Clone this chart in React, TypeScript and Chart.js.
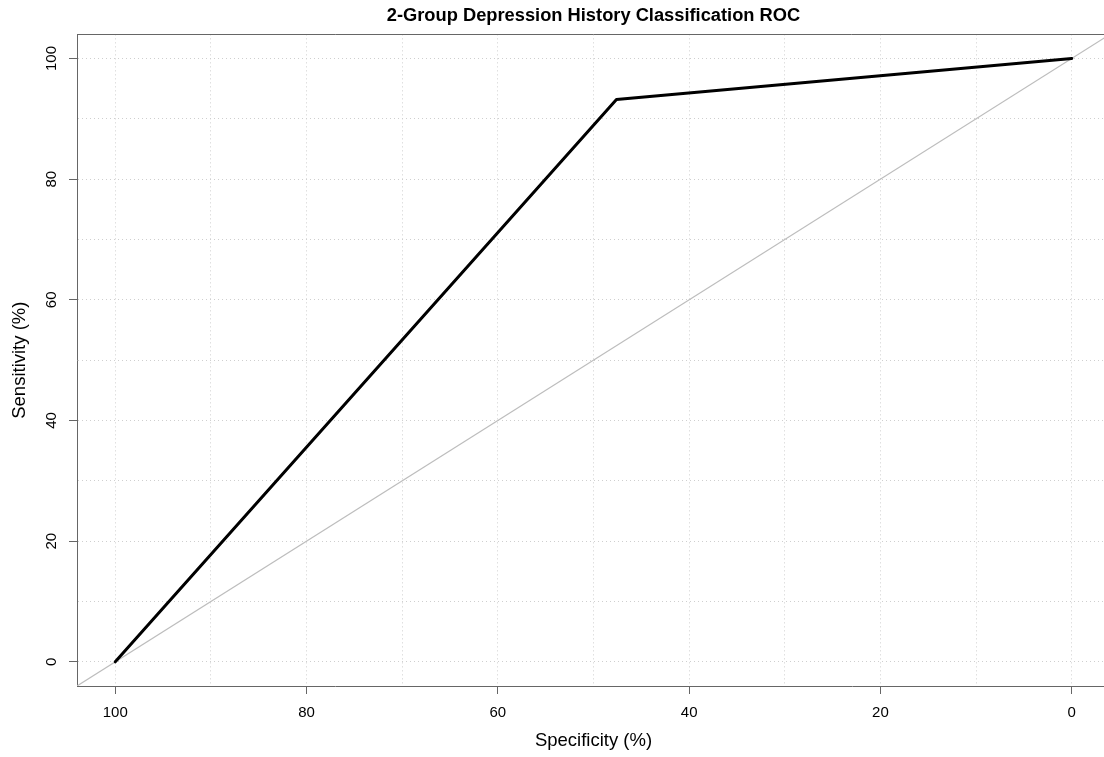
import React, { useEffect, useRef } from "react";
import { Chart, registerables } from "chart.js";

Chart.register(...registerables);

// ROC curve (specificity %, sensitivity %)
const rocSpecificity = [100, 47.6, 0];
const rocSensitivity = [0, 93.2, 100];

// chance diagonal (sensitivity = 100 - specificity), spanning the plot region
const chanceSpecificity = [104, -4];
const chanceSensitivity = [-4, 104];

// axes
const axisRange = [-4, 104];
const gridValues = [0, 10, 20, 30, 40, 50, 60, 70, 80, 90, 100];
const labelValues = [0, 20, 40, 60, 80, 100];

const titleText = "2-Group Depression History Classification ROC";
const xTitle = "Specificity (%)";
const yTitle = "Sensitivity (%)";

const FONT = "'Liberation Sans', Arial, Helvetica, sans-serif";
const AXIS_COLOR = "#666666";
const GRID_COLOR = "#cfcfcf";

const toPoints = (xs: number[], ys: number[]) => xs.map((x, i) => ({ x, y: ys[i] }));

const topBorder = {
  id: "topBorder",
  afterDraw(chart: any) {
    const { ctx, chartArea } = chart;
    ctx.save();
    ctx.strokeStyle = AXIS_COLOR;
    ctx.lineWidth = 1;
    ctx.beginPath();
    const y = Math.round(chartArea.top) + 0.5;
    ctx.moveTo(chartArea.left, y);
    ctx.lineTo(chartArea.right, y);
    ctx.stroke();
    ctx.restore();
  },
};

const tickColor = (c: any) =>
  c.tick && labelValues.includes(c.tick.value) ? AXIS_COLOR : "rgba(0,0,0,0)";

export default function App() {
  const ref = useRef<HTMLCanvasElement | null>(null);

  useEffect(() => {
    if (!ref.current) return;
    const chart = new Chart(ref.current, {
      type: "scatter",
      data: {
        datasets: [
          {
            data: toPoints(rocSpecificity, rocSensitivity),
            showLine: true,
            borderColor: "#000000",
            borderWidth: 3,
            pointRadius: 0,
            borderCapStyle: "round",
            borderJoinStyle: "round",
            order: 0,
          },
          {
            data: toPoints(chanceSpecificity, chanceSensitivity),
            showLine: true,
            borderColor: "#bdbdbd",
            borderWidth: 1.2,
            pointRadius: 0,
            order: 1,
          },
        ],
      },
      options: {
        responsive: false,
        animation: false,
        layout: { padding: 0 },
        plugins: {
          legend: { display: false },
          tooltip: { enabled: false },
          title: {
            display: true,
            text: titleText,
            fullSize: false,
            color: "#000",
            font: { family: FONT, size: 18.3, weight: "bold" },
            padding: { top: 4.5, bottom: 7.9 },
          },
        },
        scales: {
          x: {
            type: "linear",
            reverse: true,
            min: axisRange[0],
            max: axisRange[1],
            afterBuildTicks: (s: any) => {
              s.ticks = gridValues.map((v) => ({ value: v }));
            },
            afterFit: (s: any) => {
              s.height = 71;
            },
            ticks: {
              autoSkip: false,
              maxRotation: 0,
              padding: 10,
              color: "#000",
              font: { family: FONT, size: 15 },
              callback: (v: any) => (labelValues.includes(v) ? String(v) : ""),
            },
            grid: {
              color: GRID_COLOR,
              lineWidth: 1,
              tickLength: 8,
              tickColor: tickColor,
              tickWidth: 1,
            },
            border: { display: true, color: AXIS_COLOR, width: 1, dash: [1, 3] },
            title: {
              display: true,
              text: xTitle,
              color: "#000",
              font: { family: FONT, size: 18.5 },
              padding: { top: 0, bottom: 5 },
            },
          },
          y: {
            type: "linear",
            min: axisRange[0],
            max: axisRange[1],
            afterBuildTicks: (s: any) => {
              s.ticks = gridValues.map((v) => ({ value: v }));
            },
            afterFit: (s: any) => {
              s.width = 77;
            },
            ticks: {
              autoSkip: false,
              minRotation: 90,
              maxRotation: 90,
              crossAlign: "center",
              padding: 5,
              color: "#000",
              font: { family: FONT, size: 15 },
              callback: (v: any) => (labelValues.includes(v) ? String(v) : ""),
            },
            grid: {
              color: GRID_COLOR,
              lineWidth: 1,
              tickLength: 8,
              tickColor: tickColor,
              tickWidth: 1,
            },
            border: { display: true, color: AXIS_COLOR, width: 1, dash: [1, 3] },
            title: {
              display: true,
              text: yTitle,
              color: "#000",
              font: { family: FONT, size: 18.5 },
              padding: { top: 9, bottom: 0 },
            },
          },
        },
      },
      plugins: [topBorder],
    });
    return () => chart.destroy();
  }, []);

  return (
    <div
      style={{
        position: "fixed",
        left: 0,
        top: 0,
        width: 1104,
        height: 757,
        overflow: "hidden",
        background: "#fff",
      }}
    >
      <canvas ref={ref} width={1110} height={757} style={{ display: "block" }} />
    </div>
  );
}
